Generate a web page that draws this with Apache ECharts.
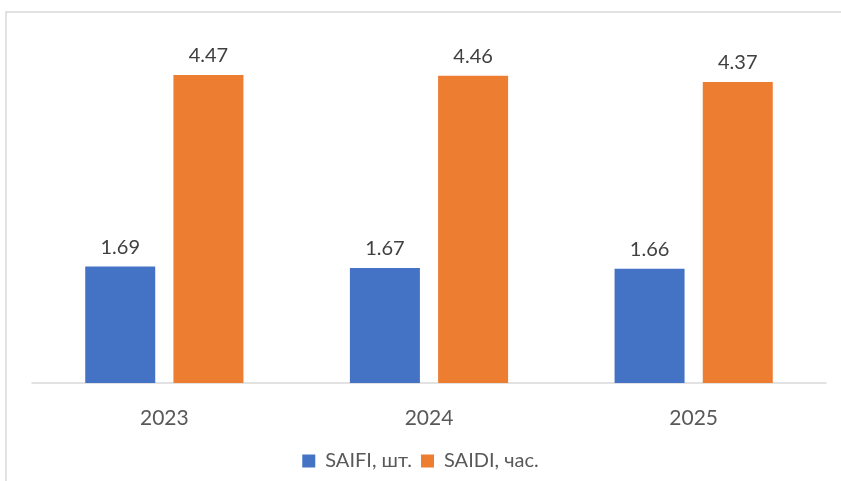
<!DOCTYPE html>
<html><head><meta charset="utf-8">
<script src="https://cdn.jsdelivr.net/npm/echarts@6/dist/echarts.min.js"></script>
<style>html,body{margin:0;padding:0;background:#fff}#c{width:841px;height:481px}</style>
</head><body><div id="c"></div>
<script>
const categories = ['2023', '2024', '2025'];
const saifi = [1.69, 1.67, 1.66];
const saidi = [4.47, 4.46, 4.37];
const seriesNames = ['SAIFI, шт.', 'SAIDI, час.'];

const chart = echarts.init(document.getElementById('c'), null, {renderer: 'canvas'});
const font = 'Lato, "Open Sans", sans-serif';
const labelStyle = {show: true, position: 'top', distance: 9, color: '#404040', fontSize: 20, fontFamily: font};
chart.setOption({
  animation: false,
  graphic: [{type: 'rect', shape: {x: 6, y: 12, width: 900, height: 600}, style: {fill: 'none', stroke: '#D9D9D9', lineWidth: 1.5}, silent: true}],
  grid: {left: 32, right: 15, top: 38.5, bottom: 98},
  legend: {
    bottom: 5, left: 'center', itemWidth: 13, itemHeight: 13, itemGap: 9, icon: 'rect',
    textStyle: {color: '#595959', fontSize: 20, fontFamily: font, padding: [0, 0, 0, 5]},
    data: seriesNames
  },
  xAxis: {
    type: 'category', data: categories,
    axisLine: {lineStyle: {color: '#D9D9D9', width: 1.5}},
    axisTick: {show: false},
    axisLabel: {color: '#595959', fontSize: 21, fontFamily: font, margin: 25}
  },
  yAxis: {type: 'value', min: 0, max: 5, show: false, splitLine: {show: false}},
  series: [
    {name: seriesNames[0], type: 'bar', data: saifi, barWidth: 70, barGap: '26%', itemStyle: {color: '#4472C4'}, label: labelStyle},
    {name: seriesNames[1], type: 'bar', data: saidi, barWidth: 70, itemStyle: {color: '#ED7D31'}, label: labelStyle}
  ]
});
</script></body></html>
